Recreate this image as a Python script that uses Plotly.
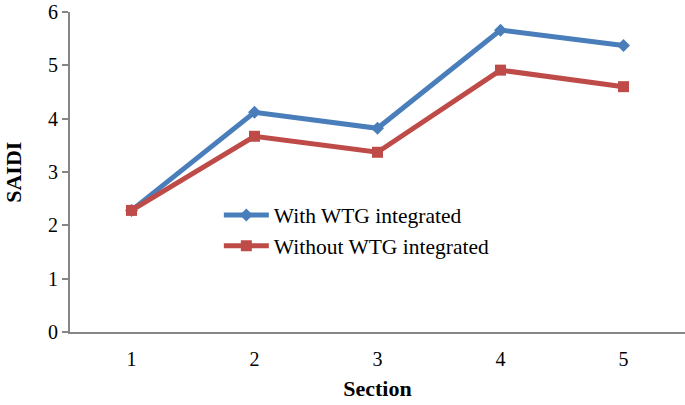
import plotly.graph_objects as go

# Values
sections = [1, 2, 3, 4, 5]
with_wtg = [2.28, 4.12, 3.82, 5.66, 5.37]
without_wtg = [2.28, 3.67, 3.37, 4.91, 4.60]

font_family = "Liberation Serif, Times New Roman, serif"

fig = go.Figure()

fig.add_trace(go.Scatter(
    x=sections, y=with_wtg,
    mode="lines+markers",
    name="With WTG integrated",
    line=dict(color="#4A7EBB", width=5),
    marker=dict(symbol="diamond", size=10, color="#4A7EBB"),
))

fig.add_trace(go.Scatter(
    x=sections, y=without_wtg,
    mode="lines+markers",
    name="Without WTG integrated",
    line=dict(color="#BE4B48", width=5),
    marker=dict(symbol="square", size=11, color="#BE4B48"),
))

fig.update_layout(
    width=685, height=405,
    margin=dict(l=70, r=0, t=12, b=73),
    paper_bgcolor="white",
    plot_bgcolor="white",
    font=dict(family=font_family, color="black", size=20),
    legend=dict(
        x=0.242, y=0.43, xanchor="left", yanchor="top",
        bgcolor="rgba(0,0,0,0)",
        font=dict(size=21.5),
        tracegroupgap=14,
        itemwidth=45,
    ),
    annotations=[dict(
        text="<b>SAIDI</b>", xref="paper", yref="paper",
        x=-0.093, y=0.5, xanchor="center", yanchor="middle",
        textangle=-90, showarrow=False, font=dict(size=22),
    )],
)

# white (invisible) ticks push the category labels a little lower
fig.update_xaxes(
    range=[0.5, 5.5],
    tickvals=sections,
    ticks="outside", ticklen=8, tickcolor="white",
    showgrid=False,
    zeroline=False,
    automargin=False,
    showline=True, linecolor="#868686", linewidth=2,
    title=dict(text="<b>Section</b>", font=dict(size=22), standoff=12),
    tickfont=dict(size=20),
)

fig.update_yaxes(
    range=[0, 6],
    dtick=1,
    ticks="outside", ticklen=6, tickcolor="#868686", tickwidth=2,
    showgrid=False,
    zeroline=False,
    automargin=False,
    ticklabeloverflow="allow",
    showline=True, linecolor="#868686", linewidth=2,
    tickfont=dict(size=20),
)

# drop the default 8px page margin so the figure sits at the window corner
fig.write_html(
    "out.html",
    config={"displayModeBar": False},
    post_script="document.body.style.margin='0';",
)
